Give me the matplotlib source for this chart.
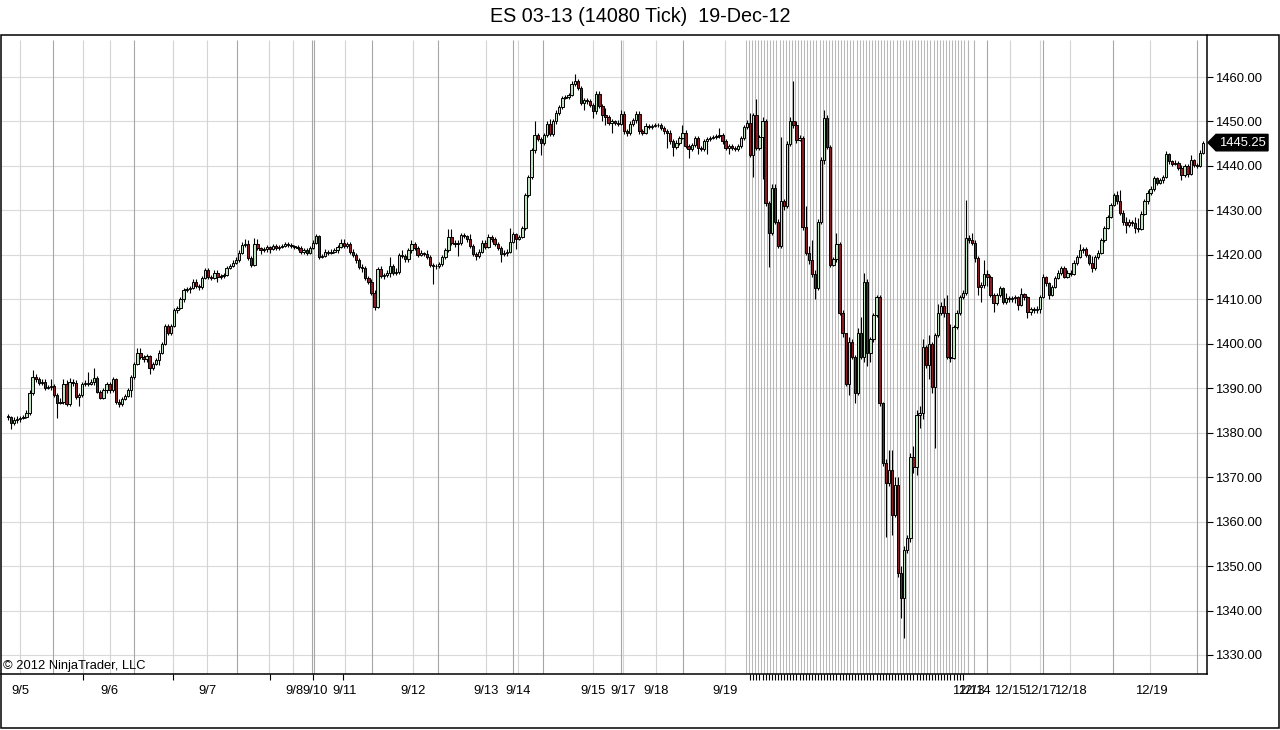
import numpy as np
import matplotlib
matplotlib.use('Agg')
import matplotlib.pyplot as plt
from matplotlib.patches import Rectangle, Polygon
from matplotlib.transforms import blended_transform_factory

plt.rcParams['font.family'] = ['Liberation Sans', 'DejaVu Sans']

# ---- data: ES 03-13, 14080 tick bars (open of each bar = previous close) ----
first_open = 1383.75

closes = [
    # 9/5 .. 9/19
    1383.5, 1382.25, 1382.75, 1383, 1383.25, 1383.5, 1384.5, 1389, 1392.5, 1392,
    1391.25, 1391.5, 1390, 1390.25,
    1390.5, 1388.5, 1386.75, 1387, 1391, 1386.5, 1391.5, 1391.25, 1388, 1388.5, 1391, 1391.25, 1391, 1391.5,
    1392.25, 1389.25, 1387.75, 1389.5, 1391, 1389.5, 1392, 1387, 1386.5, 1387.5, 1388.25, 1389.5,
    1392.5, 1395.5, 1398, 1397, 1396.5, 1397.25, 1394.5, 1395.5, 1396.25,
    1398, 1400, 1404, 1402.5, 1404, 1407.5, 1408, 1410, 1412, 1412.25,
    1412.5, 1414, 1413, 1412.75, 1414.75, 1416.5, 1415, 1414.75, 1416, 1415, 1415.25,
    1415.5, 1417, 1417.5, 1418.25, 1418.75, 1420.5, 1422.25, 1422.5, 1419.25, 1417.75, 1422.5, 1421.5, 1421, 1421.25,
    1421.75, 1421.25, 1422, 1421.5, 1421.75, 1422, 1422.5, 1422.25, 1422, 1421.75,
    1421.5, 1420.75, 1421, 1420.5, 1421.5, 1422.75, 1424.25, 1419.5, 1419.75, 1420.75, 1420.5, 1420.75, 1421,
    1421.75, 1422.75, 1422, 1422.5, 1420.75, 1420, 1418.75, 1417.25, 1417, 1414.75, 1414, 1411.5, 1408.25,
    1416.75, 1415.25, 1415.5, 1416,
    1417.5, 1416, 1416.25, 1420, 1419.75, 1419, 1421, 1422.5, 1421.5, 1420, 1420.5, 1420.25,
    1419.5, 1417.75, 1417.5, 1417.5, 1418, 1419.5, 1421, 1424, 1422.75, 1422.5, 1422.75, 1424.5, 1424.25, 1423.5,
    1422, 1420.25, 1419.75, 1420.75, 1422.75, 1421.75, 1424, 1423.5, 1422.5, 1421.5, 1420.25, 1420.5,
    1420.75, 1423, 1424.75, 1423.5, 1424, 1426, 1433.5, 1437.5, 1443.5, 1447, 1446, 1445.25, 1447, 1449.5,
    1447.25, 1450, 1452, 1453.25, 1455.25, 1455.5,
    1456, 1458.5, 1459, 1457.5, 1454.25, 1454.75, 1454.5, 1453.75, 1452.25, 1456.25, 1453.5, 1451.5, 1451,
    1449.75, 1450, 1449.75,
    1449.5, 1451.75, 1447.75, 1447.5, 1449.5, 1450.25, 1451.75, 1447.75, 1447.5, 1449, 1448.75, 1449, 1449.25,
    1449.25, 1448.5, 1447.75, 1447.5, 1445.5, 1444.25, 1445.25, 1446.25, 1447.5, 1444.5, 1443.75, 1444.75,
    1446.25, 1444, 1443.75, 1445.5, 1446, 1446.25, 1446.5,
    1446.75, 1447, 1445.5, 1444, 1444.5, 1444, 1443.75, 1444.5, 1446.25, 1448.75,
    # one session per bar
    1449.75, 1442.5, 1451.5, 1444, 1446.5, 1450, 1431.75, 1425, 1435, 1427.5,
    1422, 1432, 1431, 1445, 1450, 1449.25, 1445.75, 1446.25, 1426.25, 1420.5,
    1418.75, 1415.75, 1412.5, 1427.5, 1441.25, 1450.75, 1444.25, 1417.75, 1419, 1422.5,
    1407, 1402.5, 1391, 1400.5, 1397, 1389, 1402.5, 1397, 1414, 1398,
    1401, 1406.5, 1410.5, 1386.75, 1373.25, 1368.75, 1371.5, 1361.5, 1368.25, 1348.5,
    1342.75, 1353.5, 1356.25, 1374.5, 1372.25, 1384, 1384.5, 1399.25, 1395.25, 1400,
    1390.25, 1402, 1407, 1408.5, 1407, 1397, 1396.75, 1403.75, 1407, 1410.5,
    1411.5, 1423.75,
    # 12/13 .. 12/19
    1423.25, 1422.75, 1419.25, 1412.75, 1413.25, 1415.75, 1415, 1411, 1409.25, 1411,
    1412.5, 1409.5, 1410.25, 1410, 1410.25, 1410.5, 1408.75, 1411.25, 1410.5, 1407.25,
    1407.75, 1407.5, 1407.75, 1410.5, 1415, 1413.75, 1411, 1412.75, 1414.75, 1416,
    1417, 1415, 1416, 1415.75, 1418.25, 1419.5, 1421, 1421.25, 1420, 1418.25,
    1417, 1419.5, 1420.5, 1423.25, 1426, 1428.5, 1431.25, 1433.5, 1432, 1429.5,
    1427.5, 1426.75, 1427.5, 1427.25, 1426, 1425.75, 1429.25, 1432, 1434, 1434.75,
    1437.25, 1436.25, 1436.75, 1437.5, 1442.75, 1441, 1440.5, 1440.75, 1439.5, 1438,
    1440, 1438.25, 1441.25, 1440.25, 1440, 1443, 1445.25,
]

highs = [
    1384.25, 1383.75, 1383.5, 1383.75, 1383.75, 1384, 1385, 1389.5, 1394, 1393.25,
    1392.5, 1392, 1392, 1390.75,
    1392, 1391, 1389, 1387.75, 1392, 1391.75, 1392.25, 1392, 1391.75, 1389, 1391.5, 1391.75, 1393.75, 1392,
    1394.5, 1392.75, 1389.5, 1390, 1391.5, 1391.5, 1392.5, 1392.25, 1387.5, 1388, 1388.75, 1390,
    1393, 1396, 1399, 1399, 1397.5, 1397.75, 1397.5, 1396, 1396.75,
    1398.5, 1400.5, 1404.5, 1404.5, 1404.5, 1408, 1408.5, 1410.5, 1412.5, 1412.75,
    1413, 1414.5, 1414.5, 1413.5, 1415.25, 1417, 1417, 1415.5, 1416.5, 1416.5, 1415.75,
    1416, 1417.5, 1418, 1418.75, 1419.5, 1421, 1423, 1423.5, 1423.25, 1419.75, 1423.75, 1423.5, 1421.75, 1421.75,
    1422.25, 1422, 1422.5, 1422.5, 1422.25, 1422.5, 1423, 1423, 1422.75, 1422.25,
    1422.25, 1422, 1421.5, 1421.5, 1422, 1423.25, 1424.75, 1424.5, 1420.25, 1421.25, 1421, 1421.25, 1421.5,
    1422.25, 1423.5, 1423.5, 1423, 1423, 1421.25, 1420.5, 1419.25, 1418, 1417.5, 1415.25, 1414.5, 1412,
    1417.25, 1417.5, 1416, 1416.5,
    1419.5, 1418, 1417, 1420.5, 1421, 1420.25, 1421.5, 1423.25, 1423, 1422, 1421, 1420.75,
    1421, 1420, 1418.25, 1418, 1418.5, 1420, 1421.5, 1425.75, 1425.75, 1423.25, 1423.25, 1425, 1425, 1424.5,
    1424.75, 1422.5, 1420.75, 1421.25, 1423.25, 1423.25, 1424.75, 1424.5, 1424, 1423, 1422, 1421,
    1421.25, 1426, 1425.25, 1425, 1424.5, 1426.5, 1434, 1438, 1444, 1450, 1447.5, 1446.5, 1447.5, 1450,
    1450.5, 1450.5, 1452.5, 1453.75, 1455.75, 1456,
    1456.5, 1459, 1460.75, 1459.5, 1458, 1455.25, 1455.25, 1455, 1454.25, 1456.75, 1456.75, 1454, 1453,
    1451.5, 1450.5, 1450.25,
    1450.25, 1452.5, 1452.25, 1448.25, 1450, 1450.75, 1452.25, 1452.25, 1448.25, 1449.75, 1449.5, 1449.5, 1449.75,
    1449.75, 1449.75, 1449, 1448.25, 1448, 1446, 1445.75, 1446.75, 1449.25, 1448, 1445, 1445.25,
    1446.75, 1446.75, 1444.5, 1446, 1446.5, 1446.75, 1447,
    1447.25, 1448.5, 1447.5, 1446, 1445, 1445, 1444.5, 1445, 1446.75, 1449.25,
    # one session per bar
    1450.25, 1452, 1452, 1455, 1447, 1451, 1450.5, 1432, 1436, 1436,
    1428, 1446.5, 1432.5, 1445.5, 1451, 1459, 1450, 1447, 1446.75, 1431,
    1422, 1423.25, 1416.5, 1428, 1442, 1452.5, 1451.5, 1444.75, 1419.5, 1425,
    1423, 1407.5, 1402.5, 1401.5, 1401, 1397.5, 1403.5, 1406, 1416, 1414.5,
    1401.5, 1407, 1411, 1411, 1387, 1374, 1376, 1376, 1370, 1370,
    1350, 1354.5, 1357, 1375.5, 1377, 1385, 1386, 1401, 1399.75, 1402,
    1400.5, 1402.5, 1409, 1409.5, 1410.25, 1411, 1404.5, 1404.25, 1407.5, 1411,
    1412, 1432.25,
    # 12/13 .. 12/19
    1424.5, 1425, 1423.25, 1419.75, 1414, 1418.75, 1416.5, 1415.5, 1411.5, 1411.5,
    1413, 1412.75, 1411.5, 1410.75, 1410.75, 1411, 1410.75, 1412.5, 1411.5, 1410.75,
    1408.25, 1408.25, 1408.5, 1411, 1415.75, 1415.25, 1414, 1413.25, 1415.25, 1416.5,
    1417.5, 1417.5, 1416.5, 1416.5, 1418.75, 1420, 1422.5, 1421.75, 1421.75, 1420.25,
    1419.75, 1420, 1421, 1423.75, 1426.5, 1429, 1431.75, 1434, 1434.25, 1434.5,
    1430, 1428.5, 1428, 1427.75, 1428.5, 1428.25, 1429.75, 1432.5, 1434.5, 1435.5,
    1437.75, 1437.5, 1437.25, 1438, 1443.25, 1443, 1441.25, 1441.25, 1441, 1440.25,
    1440.5, 1440.5, 1442.5, 1441.5, 1440.75, 1443.5, 1445.5,
]

lows = [
    1382.75, 1380.75, 1381.75, 1382.25, 1382.5, 1383, 1383.25, 1384, 1388.5, 1391.5,
    1390.75, 1390.75, 1389.5, 1389.75,
    1389.5, 1388, 1383.25, 1386.5, 1386.5, 1386, 1386, 1390.5, 1387.5, 1386, 1388, 1390.5, 1390.5, 1390.75,
    1390.75, 1389, 1387.5, 1387.5, 1389, 1389, 1389.25, 1386.5, 1385.75, 1386, 1387.25, 1388,
    1388, 1392, 1395.25, 1396.5, 1396, 1396, 1393.25, 1394, 1395.25,
    1395.25, 1397.75, 1399.75, 1402, 1402, 1403.75, 1407, 1407.75, 1409.5, 1411.75,
    1411.5, 1412.25, 1412.5, 1412, 1412.25, 1414.5, 1414.5, 1414.25, 1414.5, 1414, 1414.5,
    1414.75, 1415.25, 1416.75, 1417.25, 1418, 1418.5, 1420.25, 1421.75, 1418.75, 1417.25, 1417.5, 1421, 1420.25, 1420.75,
    1420.75, 1420.5, 1421, 1421, 1421, 1421.5, 1421.75, 1421.75, 1421.5, 1421.25,
    1421, 1420.25, 1420.25, 1420, 1420.25, 1421.25, 1422.5, 1419, 1419.25, 1419.5, 1420, 1420.25, 1420.5,
    1420.5, 1421.5, 1421.5, 1421.5, 1420.25, 1419.5, 1418.25, 1416.75, 1416.25, 1414.25, 1413.5, 1411, 1407.5,
    1408, 1414.75, 1414.5, 1415,
    1415, 1415.5, 1415.5, 1415.75, 1419.25, 1418.5, 1418.5, 1420.5, 1421, 1419.5, 1419.75, 1419.75,
    1419, 1417.25, 1413.5, 1416.75, 1417, 1417.5, 1419, 1420.75, 1422.25, 1421.75, 1419.75, 1422.25, 1423.75, 1423,
    1421.5, 1419.75, 1418.75, 1419.25, 1420.5, 1421.25, 1421.5, 1423, 1422, 1421, 1418.5, 1419.75,
    1419.75, 1420.5, 1422.75, 1421.25, 1423.25, 1423.75, 1425.5, 1433, 1437, 1443, 1445.5, 1442.5, 1444.75, 1446.5,
    1446.75, 1446.75, 1449.5, 1451.5, 1452.75, 1455,
    1455, 1455.75, 1458, 1457, 1453.75, 1452.5, 1454, 1453.25, 1450.75, 1451.75, 1453, 1450, 1449.25,
    1449.25, 1447.5, 1449.25,
    1449, 1449.25, 1447.25, 1446.75, 1447, 1449, 1449.75, 1447.25, 1447, 1447.25, 1448.25, 1448.25, 1448.75,
    1448.75, 1448, 1447.25, 1444, 1445, 1442.25, 1443.75, 1444.75, 1446, 1444, 1441.75, 1443.25,
    1444.25, 1442.75, 1443.25, 1443.25, 1442.75, 1445.5, 1446,
    1446, 1446.25, 1445, 1443.5, 1442.75, 1443.5, 1443.25, 1443.25, 1444, 1445.75,
    # one session per bar
    1448.25, 1442, 1437.5, 1443.5, 1443.5, 1437, 1431, 1417.25, 1424.5, 1427,
    1421.5, 1421.5, 1430, 1430.5, 1444.5, 1448.5, 1445.25, 1445.5, 1425.5, 1420,
    1418, 1415, 1410, 1412, 1427, 1440.5, 1443.75, 1417.25, 1417.5, 1418.5,
    1406.5, 1401.5, 1390.5, 1388.5, 1396.5, 1386.75, 1388.5, 1396.5, 1396, 1395,
    1396, 1400.5, 1406, 1386, 1372.5, 1356.5, 1368, 1357, 1361, 1347.5,
    1338.25, 1333.75, 1353, 1355.5, 1371, 1370.5, 1381, 1383, 1394.5, 1392,
    1389, 1376.5, 1401.5, 1406.5, 1406, 1396.5, 1396, 1396.5, 1403.25, 1406.5,
    1410, 1411,
    # 12/13 .. 12/19
    1422.75, 1422.25, 1418.5, 1411, 1409.5, 1412.5, 1413, 1410.5, 1407.25, 1408.75,
    1410.5, 1409, 1409, 1409.5, 1409.5, 1409.25, 1407.5, 1408.5, 1409.75, 1405.75,
    1406.5, 1407, 1407, 1407, 1410.25, 1413, 1410, 1410.75, 1412.5, 1414.5,
    1415.5, 1414.75, 1414.75, 1415.25, 1415.5, 1417.75, 1419.25, 1420.5, 1419.5, 1417.75,
    1416.25, 1416.5, 1419, 1420.25, 1423, 1425.75, 1428.25, 1431, 1431.5, 1429,
    1426.75, 1425, 1426.25, 1426.5, 1425, 1425.25, 1425.5, 1429, 1431.5, 1433.5,
    1434.25, 1435.75, 1436, 1436.25, 1437.25, 1440.5, 1440, 1440.25, 1439, 1436.75,
    1437.5, 1437.5, 1438, 1439.75, 1439.5, 1439.75, 1442.75,
]

# bars where each bar is a session of its own
single_bar_sessions = (240, 312)

# session breaks (bar units)
session_breaks = [14.6, 40.9, 74.4, 98.7, 99.4, 118.2, 139.6, 164.0, 173.7, 199.0,
                  219.2, 317.9, 336.0, 358.8, 386.0]
extra_breaks = [311.7, 313.6]

# date labels
date_labels = ['9/5', '9/6', '9/7', '9/8', '9/10', '9/11', '9/12', '9/13', '9/14', '9/15',
               '9/17', '9/18', '9/19', '12/13', '12/14', '12/15', '12/17', '12/18', '12/19']
date_pos = [3.9, 33.1, 64.6, 92.9, 99.7, 109.4, 131.5, 155.2, 165.6, 189.9,
            199.7, 210.4, 232.8, 311.7, 313.6, 325.3, 335.1, 344.8, 371.1]
date_lines = [3.9, 24.4, 33.1, 53.6, 64.6, 84.7, 92.5, 109.4, 131.5, 155.2, 165.6,
              189.9, 199.7, 210.4, 232.8, 325.3, 335.1, 344.8, 370.8]
tick_marks = [3.9, 24.4, 53.6, 85.1, 99.0, 108.8, 131.5, 155.2, 165.6, 189.9, 199.7,
              210.4, 232.8, 311.7, 313.6, 325.3, 335.1, 344.8, 371.1]

price_ticks = np.arange(1330, 1461, 10)
last_price = 1445.25

# ---- derived ----
closes = np.array(closes)
opens = np.r_[first_open, closes[:-1]]
highs = np.maximum(np.array(highs), np.maximum(opens, closes))
lows = np.minimum(np.array(lows), np.minimum(opens, closes))
x = np.arange(len(closes))
up = closes >= opens

fig = plt.figure(figsize=(12.8, 7.3), dpi=100)
ax = fig.add_axes([1 / 1280, 56 / 730, 1206 / 1280, 639 / 730])
ax.set_facecolor('white')

ax.set_xlim(-2.27, 389.3)
ax.set_ylim(1325.72, 1469.45)

# grid
for p in price_ticks:
    ax.axhline(p, color='#dadada', lw=0.8, zorder=0)
top_line = 1468.3
ax.vlines(date_lines, ax.get_ylim()[0], top_line, color='#d4d4d4', lw=0.8, zorder=0)
ax.vlines(session_breaks, ax.get_ylim()[0], top_line, color='#a6a6a6', lw=0.8, zorder=1)
ax.vlines(extra_breaks, ax.get_ylim()[0], top_line, color='#b4b4b4', lw=0.8, zorder=1)
dense = np.arange(*single_bar_sessions) - 0.5
ax.vlines(dense, ax.get_ylim()[0], top_line, color='#b8b8b8', lw=0.75, zorder=1)

# candles
ax.vlines(x, lows, highs, color='black', lw=0.8, zorder=2)
body_colors = np.where(up, '#bfe3bf', '#8c1c24')
ax.bar(x, closes - opens, bottom=opens, width=0.76, color=body_colors,
       edgecolor='black', linewidth=0.7, zorder=3)

# axes
for s in ['top', 'left']:
    ax.spines[s].set_visible(False)
ax.spines['right'].set_linewidth(1.1)
ax.spines['bottom'].set_linewidth(1.1)

ax.yaxis.tick_right()
ax.set_yticks(price_ticks)
ax.set_yticklabels([f'{p:.2f}' for p in price_ticks])
ax.tick_params(axis='y', direction='out', length=4, width=0.8, pad=2, labelsize=9.4)

ax.set_xticks(date_pos)
ax.set_xticklabels(date_labels)
ax.set_xticks(list(tick_marks) + list(np.arange(241, 311)), minor=True)
ax.tick_params(axis='x', which='major', length=0, pad=8, labelsize=9.4)
ax.tick_params(axis='x', which='minor', direction='out', length=4, width=0.8)

# last price marker
tr = blended_transform_factory(ax.transAxes, ax.transData)
dy = 1.85
marker = Polygon([(1.0008, last_price), (1.0075, last_price + dy), (1.0506, last_price + dy),
                  (1.0506, last_price - dy), (1.0075, last_price - dy)],
                 closed=True, transform=tr, facecolor='black', edgecolor='black', clip_on=False, zorder=5)
ax.add_patch(marker)
ax.text(1.0295, last_price, f'{last_price:.2f}', transform=tr, color='white', fontsize=9.4,
        ha='center', va='center', zorder=6, clip_on=False)

# frame, title, copyright
fig.add_artist(Rectangle((1 / 1280, 2 / 730), 1278 / 1280, 693 / 730, transform=fig.transFigure,
                         fill=False, edgecolor='black', lw=1.1))
fig.text(0.5, 1 - 17 / 730, 'ES 03-13 (14080 Tick)  19-Dec-12', ha='center', va='center', fontsize=14.2)
fig.text(3 / 1280, 1 - 666 / 730, '\u00a9 2012 NinjaTrader, LLC', ha='left', va='center', fontsize=9.3)

fig.savefig('out.png', dpi=100, facecolor='white')
